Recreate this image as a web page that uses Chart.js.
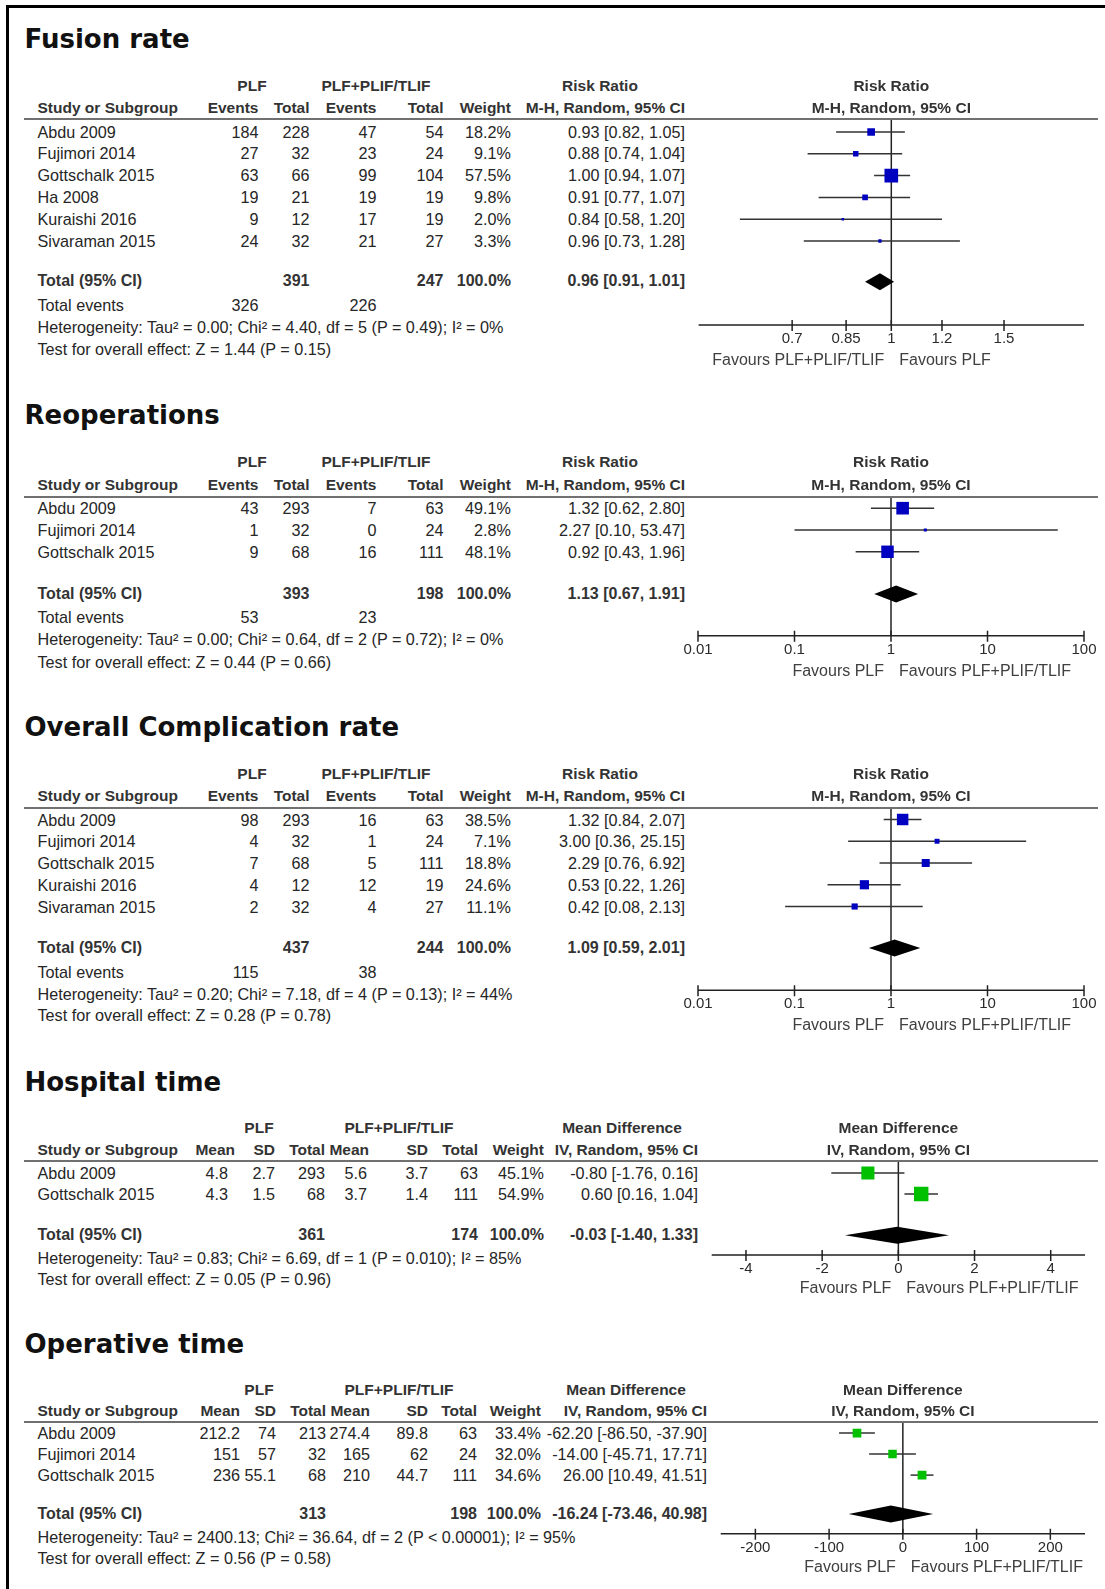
<!DOCTYPE html>
<html>
<head>
<meta charset="utf-8">
<script src="https://cdn.jsdelivr.net/npm/chart.js@4.4.1/dist/chart.umd.min.js"></script>
<style>
  body { margin: 0; background: #fff; width: 1105px; height: 1589px; position: relative; overflow: hidden;
         font-family: "Liberation Sans", Arial, sans-serif; color: #262626; }
  .frame { position: absolute; left: 6px; top: 5px; right: -10px; bottom: -10px; border-left: 3px solid #000; border-top: 3px solid #000; }
  .t { position: absolute; white-space: nowrap; font-size: 16.2px; line-height: 1; }
  .b { font-weight: bold; color: #333; font-size: 16px; }
  .hd { font-weight: bold; color: #333; font-size: 15.5px; }
  .title { font: bold 26px "DejaVu Sans", sans-serif; color: #111; }
  .rule { position: absolute; left: 24px; width: 1074px; height: 2px; background: #707070; }
  canvas { position: absolute; }
</style>
</head>
<body>
<div class="frame"></div>
<script>
// Fusion rate
const fusionStudies = ['Abdu 2009', 'Fujimori 2014', 'Gottschalk 2015', 'Ha 2008', 'Kuraishi 2016', 'Sivaraman 2015']
const fusionPlfEvents = [184, 27, 63, 19, 9, 24]
const fusionPlfTotal = [228, 32, 66, 21, 12, 32]
const fusionComboEvents = [47, 23, 99, 19, 17, 21]
const fusionComboTotal = [54, 24, 104, 19, 19, 27]
const fusionWeight = [18.2, 9.1, 57.5, 9.8, 2.0, 3.3]
const fusionRR = [0.93, 0.88, 1.00, 0.91, 0.84, 0.96]
const fusionLow = [0.82, 0.74, 0.94, 0.77, 0.58, 0.73]
const fusionHigh = [1.05, 1.04, 1.07, 1.07, 1.20, 1.28]
const fusionPooled = [0.96, 0.91, 1.01]
const fusionTicks = [0.7, 0.85, 1, 1.2, 1.5]
const fusionTickLabels = ['0.7', '0.85', '1', '1.2', '1.5']

// Reoperations
const reopStudies = ['Abdu 2009', 'Fujimori 2014', 'Gottschalk 2015']
const reopPlfEvents = [43, 1, 9]
const reopPlfTotal = [293, 32, 68]
const reopComboEvents = [7, 0, 16]
const reopComboTotal = [63, 24, 111]
const reopWeight = [49.1, 2.8, 48.1]
const reopRR = [1.32, 2.27, 0.92]
const reopLow = [0.62, 0.10, 0.43]
const reopHigh = [2.80, 53.47, 1.96]
const reopPooled = [1.13, 0.67, 1.91]

// Overall complication rate
const complStudies = ['Abdu 2009', 'Fujimori 2014', 'Gottschalk 2015', 'Kuraishi 2016', 'Sivaraman 2015']
const complPlfEvents = [98, 4, 7, 4, 2]
const complPlfTotal = [293, 32, 68, 12, 32]
const complComboEvents = [16, 1, 5, 12, 4]
const complComboTotal = [63, 24, 111, 19, 27]
const complWeight = [38.5, 7.1, 18.8, 24.6, 11.1]
const complRR = [1.32, 3.00, 2.29, 0.53, 0.42]
const complLow = [0.84, 0.36, 0.76, 0.22, 0.08]
const complHigh = [2.07, 25.15, 6.92, 1.26, 2.13]
const complPooled = [1.09, 0.59, 2.01]

const logTicks = [0.01, 0.1, 1, 10, 100]
const logTickLabels = ['0.01', '0.1', '1', '10', '100']

// Hospital time
const hospStudies = ['Abdu 2009', 'Gottschalk 2015']
const hospPlfMean = [4.8, 4.3]
const hospPlfSD = [2.7, 1.5]
const hospPlfTotal = [293, 68]
const hospComboMean = [5.6, 3.7]
const hospComboSD = [3.7, 1.4]
const hospComboTotal = [63, 111]
const hospWeight = [45.1, 54.9]
const hospMD = [-0.80, 0.60]
const hospLow = [-1.76, 0.16]
const hospHigh = [0.16, 1.04]
const hospPooled = [-0.03, -1.40, 1.33]
const hospTicks = [-4, -2, 0, 2, 4]
const hospTickLabels = ['-4', '-2', '0', '2', '4']

// Operative time
const operStudies = ['Abdu 2009', 'Fujimori 2014', 'Gottschalk 2015']
const operPlfMean = [212.2, 151, 236]
const operPlfSD = [74, 57, 55.1]
const operPlfTotal = [213, 32, 68]
const operComboMean = [274.4, 165, 210]
const operComboSD = [89.8, 62, 44.7]
const operComboTotal = [63, 24, 111]
const operWeight = [33.4, 32.0, 34.6]
const operMD = [-62.20, -14.00, 26.00]
const operLow = [-86.50, -45.71, 10.49]
const operHigh = [-37.90, 17.71, 41.51]
const operPooled = [-16.24, -73.46, 40.98]
const operTicks = [-200, -100, 0, 100, 200]
const operTickLabels = ['-200', '-100', '0', '100', '200']

// vertical placement of each block
const layout = {
	fusion: { title: 38.5, h1: 86, h2: 107.5, rule: 118.5, row0: 131.5, rowH: 21.8, total: 281.2, events: 304.8, het: 326.8, test: 349, axis: 324.5, favY: 35.5, axisL: 698.6, axisR: 1084 },
	reop: { title: 414.6, h1: 462.3, h2: 484.6, rule: 496.8, row0: 508, rowH: 21.8, total: 593.7, events: 617.2, het: 639.2, test: 661.6, axis: 635.6, favY: 35.5, axisL: 698, axisR: 1084 },
	compl: { title: 726.9, h1: 773.5, h2: 795.8, rule: 808, row0: 819.5, rowH: 21.75, total: 948, events: 972, het: 994, test: 1015.2, axis: 990.3, favY: 35.5, axisL: 698, axisR: 1084 },
	hosp: { title: 1081.7, h1: 1128.3, h2: 1149.6, rule: 1160.5, row0: 1172.5, rowH: 21, total: 1234.8, het: 1257.6, test: 1278.8, axis: 1254.5, favY: 34, axisL: 711.7, axisR: 1085 },
	oper: { title: 1344.3, h1: 1390, h2: 1411.2, rule: 1421.5, row0: 1432.6, rowH: 21, total: 1513.6, het: 1536.5, test: 1557.8, axis: 1533.2, favY: 33.5, axisL: 720.7, axisR: 1085 },
}

const rrCols = { c1: 258.5, c2: 309.5, c3: 376.5, c4: 443.5, weight: 511, ci: 685, plf: 252, combo: 376, ciHead: 600 }
const hospCols = { mean: 235, meanVal: 228, sd: 275, total: 325, mean2: 369, mean2Val: 367, sd2: 428, total2: 478, weight: 544, ci: 698, plf: 259, combo: 399, ciHead: 622 }
const operCols = { mean: 240, meanVal: 240, sd: 276, total: 326, mean2: 370, mean2Val: 370, sd2: 428, total2: 477, weight: 541, ci: 707, plf: 259, combo: 399, ciHead: 626 }

const sum = (a) => a.reduce((s, v) => s + v, 0)
const f2 = (v) => v.toFixed(2)
const ciText = (e, l, h) => f2(e) + ' [' + f2(l) + ', ' + f2(h) + ']'

function put(text, x, y, align, cls) {
	let el = document.createElement('div')
	el.className = 't' + (cls ? ' ' + cls : '')
	el.textContent = text
	el.style.left = x + 'px'
	el.style.top = y + 'px'
	let tx = align === 'right' ? '-100%' : align === 'center' ? '-50%' : '0'
	el.style.transform = 'translate(' + tx + ', -50%)'
	document.body.appendChild(el)
	return el
}

function rule(y) {
	let el = document.createElement('div')
	el.className = 'rule'
	el.style.top = y - 1 + 'px'
	document.body.appendChild(el)
}

// whiskers, reference line, axis, pooled diamond and favours labels
function forestPlugin(cfg, totalRow, axisRow, favY) {
	return {
		id: 'forest',
		beforeDatasetsDraw(chart) {
			let ctx = chart.ctx
			let x = chart.scales.x
			let y = chart.scales.y
			let ay = y.getPixelForValue(axisRow)
			ctx.save()
			ctx.strokeStyle = '#222'
			ctx.lineWidth = 1.5
			let rx = x.getPixelForValue(cfg.ref)
			ctx.beginPath()
			ctx.moveTo(rx, chart.chartArea.top)
			ctx.lineTo(rx, ay)
			ctx.stroke()

			ctx.beginPath()
			ctx.moveTo(x.left, ay)
			ctx.lineTo(x.right, ay)
			x.ticks.forEach((t) => {
				let px = x.getPixelForValue(t.value)
				ctx.moveTo(px, ay - 5)
				ctx.lineTo(px, ay + 6)
			})
			ctx.stroke()

			ctx.strokeStyle = '#333'
			for (let i = 0; i < cfg.low.length; i++) {
				let py = y.getPixelForValue(i)
				ctx.beginPath()
				ctx.moveTo(x.getPixelForValue(cfg.low[i]), py)
				ctx.lineTo(x.getPixelForValue(cfg.high[i]), py)
				ctx.stroke()
			}
			ctx.restore()
		},
		afterDatasetsDraw(chart) {
			let ctx = chart.ctx
			let x = chart.scales.x
			let y = chart.scales.y
			let cy = y.getPixelForValue(totalRow)
			ctx.save()
			ctx.fillStyle = '#000'
			ctx.beginPath()
			ctx.moveTo(x.getPixelForValue(cfg.pooled[1]), cy)
			ctx.lineTo(x.getPixelForValue(cfg.pooled[0]), cy - 8.5)
			ctx.lineTo(x.getPixelForValue(cfg.pooled[2]), cy)
			ctx.lineTo(x.getPixelForValue(cfg.pooled[0]), cy + 8.5)
			ctx.closePath()
			ctx.fill()

			let rx = x.getPixelForValue(cfg.ref)
			let fy = y.getPixelForValue(axisRow) + favY
			ctx.fillStyle = '#404040'
			ctx.font = '16px "Liberation Sans"'
			ctx.textBaseline = 'middle'
			ctx.textAlign = 'right'
			ctx.fillText(cfg.favours[0], rx - 7, fy)
			ctx.textAlign = 'left'
			ctx.fillText(cfg.favours[1], rx + 8, fy)
			ctx.restore()
		},
	}
}

function forestChart(L, cfg) {
	let canvas = document.createElement('canvas')
	let left = 640
	let width = 465
	let padT = 30
	let padB = 50
	let top = L.rule + 1 - padT
	let height = Math.round(L.axis + padB - top)
	canvas.width = width
	canvas.height = height
	canvas.style.left = left + 'px'
	canvas.style.top = top + 'px'
	canvas.style.width = width + 'px'
	canvas.style.height = height + 'px'
	document.body.appendChild(canvas)

	let rowOf = (py) => (py - L.row0) / L.rowH
	let totalRow = rowOf(L.total)
	let axisRow = rowOf(L.axis)

	let chart = new Chart(canvas, {
		type: 'scatter',
		data: {
			datasets: [
				{
					data: cfg.est.map((v, i) => ({ x: v, y: i })),
					pointStyle: 'rect',
					pointRadius: cfg.weight.map((w) => (cfg.boxScale * Math.sqrt(w)) / Math.SQRT2),
					backgroundColor: cfg.color,
					borderWidth: 0,
				},
			],
		},
		options: {
			responsive: false,
			animation: false,
			events: [],
			layout: { padding: { left: L.axisL - left, right: left + width - L.axisR, top: padT, bottom: padB } },
			scales: {
				x: {
					type: cfg.log ? 'logarithmic' : 'linear',
					min: cfg.min,
					max: cfg.max,
					position: { y: axisRow },
					afterBuildTicks: (axis) => {
						axis.ticks = cfg.ticks.map((v) => ({ value: v }))
					},
					grid: { display: false, drawTicks: false, tickLength: 0 },
					border: { display: false },
					ticks: {
						autoSkip: false,
						maxRotation: 0,
						padding: 5,
						color: '#2a2a2a',
						font: { family: 'Liberation Sans', size: 15 },
						callback: (v, i) => cfg.tickLabels[i],
					},
				},
				y: { type: 'linear', display: false, reverse: true, min: rowOf(top + padT), max: rowOf(top + height - padB) },
			},
			plugins: { legend: { display: false }, tooltip: { enabled: false } },
		},
		plugins: [forestPlugin(cfg, totalRow, axisRow, L.favY)],
	})

	let refPx = left + chart.scales.x.getPixelForValue(cfg.ref)
	put(cfg.head[0], refPx, L.h1, 'center', 'hd')
	put(cfg.head[1], refPx, L.h2, 'center', 'hd')
	return chart
}

function riskRatioPanel(title, L, d) {
	put(title, 24.5, L.title, 'left', 'title')
	let c = rrCols
	put('PLF', c.plf, L.h1, 'center', 'hd')
	put('PLF+PLIF/TLIF', c.combo, L.h1, 'center', 'hd')
	put('Risk Ratio', c.ciHead, L.h1, 'center', 'hd')
	put('Study or Subgroup', 37.5, L.h2, 'left', 'hd')
	put('Events', c.c1, L.h2, 'right', 'hd')
	put('Total', c.c2, L.h2, 'right', 'hd')
	put('Events', c.c3, L.h2, 'right', 'hd')
	put('Total', c.c4, L.h2, 'right', 'hd')
	put('Weight', c.weight, L.h2, 'right', 'hd')
	put('M-H, Random, 95% CI', c.ci, L.h2, 'right', 'hd')
	rule(L.rule)

	d.studies.forEach((s, i) => {
		let y = L.row0 + i * L.rowH
		put(s, 37.5, y, 'left')
		put(String(d.ev1[i]), c.c1, y, 'right')
		put(String(d.n1[i]), c.c2, y, 'right')
		put(String(d.ev2[i]), c.c3, y, 'right')
		put(String(d.n2[i]), c.c4, y, 'right')
		put(d.weight[i].toFixed(1) + '%', c.weight, y, 'right')
		put(ciText(d.est[i], d.low[i], d.high[i]), c.ci, y, 'right')
	})
	put('Total (95% CI)', 37.5, L.total, 'left', 'b')
	put(String(sum(d.n1)), c.c2, L.total, 'right', 'b')
	put(String(sum(d.n2)), c.c4, L.total, 'right', 'b')
	put('100.0%', c.weight, L.total, 'right', 'b')
	put(ciText(d.pooled[0], d.pooled[1], d.pooled[2]), c.ci, L.total, 'right', 'b')
	put('Total events', 37.5, L.events, 'left')
	put(String(sum(d.ev1)), c.c1, L.events, 'right')
	put(String(sum(d.ev2)), c.c3, L.events, 'right')
	put(d.het, 37.5, L.het, 'left')
	put(d.test, 37.5, L.test, 'left')

	forestChart(L, {
		est: d.est, low: d.low, high: d.high, weight: d.weight, pooled: d.pooled,
		log: true, min: d.min, max: d.max, ticks: d.ticks, tickLabels: d.tickLabels,
		ref: 1, favours: d.favours, color: '#0000c0', boxScale: d.boxScale,
		head: ['Risk Ratio', 'M-H, Random, 95% CI'],
	})
}

function meanDiffPanel(title, L, c, d) {
	put(title, 24.5, L.title, 'left', 'title')
	put('PLF', c.plf, L.h1, 'center', 'hd')
	put('PLF+PLIF/TLIF', c.combo, L.h1, 'center', 'hd')
	put('Mean Difference', c.ciHead, L.h1, 'center', 'hd')
	put('Study or Subgroup', 37.5, L.h2, 'left', 'hd')
	put('Mean', c.mean, L.h2, 'right', 'hd')
	put('SD', c.sd, L.h2, 'right', 'hd')
	put('Total', c.total, L.h2, 'right', 'hd')
	put('Mean', c.mean2, L.h2, 'right', 'hd')
	put('SD', c.sd2, L.h2, 'right', 'hd')
	put('Total', c.total2, L.h2, 'right', 'hd')
	put('Weight', c.weight, L.h2, 'right', 'hd')
	put('IV, Random, 95% CI', c.ci, L.h2, 'right', 'hd')
	rule(L.rule)

	d.studies.forEach((s, i) => {
		let y = L.row0 + i * L.rowH
		put(s, 37.5, y, 'left')
		put(String(d.mean1[i]), c.meanVal, y, 'right')
		put(String(d.sd1[i]), c.sd, y, 'right')
		put(String(d.n1[i]), c.total, y, 'right')
		put(String(d.mean2[i]), c.mean2Val, y, 'right')
		put(String(d.sd2[i]), c.sd2, y, 'right')
		put(String(d.n2[i]), c.total2, y, 'right')
		put(d.weight[i].toFixed(1) + '%', c.weight, y, 'right')
		put(ciText(d.est[i], d.low[i], d.high[i]), c.ci, y, 'right')
	})
	put('Total (95% CI)', 37.5, L.total, 'left', 'b')
	put(String(sum(d.n1)), c.total, L.total, 'right', 'b')
	put(String(sum(d.n2)), c.total2, L.total, 'right', 'b')
	put('100.0%', c.weight, L.total, 'right', 'b')
	put(ciText(d.pooled[0], d.pooled[1], d.pooled[2]), c.ci, L.total, 'right', 'b')
	put(d.het, 37.5, L.het, 'left')
	put(d.test, 37.5, L.test, 'left')

	forestChart(L, {
		est: d.est, low: d.low, high: d.high, weight: d.weight, pooled: d.pooled,
		log: false, min: d.min, max: d.max, ticks: d.ticks, tickLabels: d.tickLabels,
		ref: 0, favours: ['Favours PLF', 'Favours PLF+PLIF/TLIF'], color: '#00c000', boxScale: d.boxScale,
		head: ['Mean Difference', 'IV, Random, 95% CI'],
	})
}

riskRatioPanel('Fusion rate', layout.fusion, {
	studies: fusionStudies, ev1: fusionPlfEvents, n1: fusionPlfTotal, ev2: fusionComboEvents, n2: fusionComboTotal,
	weight: fusionWeight, est: fusionRR, low: fusionLow, high: fusionHigh, pooled: fusionPooled,
	het: 'Heterogeneity: Tau² = 0.00; Chi² = 4.40, df = 5 (P = 0.49); I² = 0%',
	test: 'Test for overall effect: Z = 1.44 (P = 0.15)',
	min: 0.5, max: 2, ticks: fusionTicks, tickLabels: fusionTickLabels,
	favours: ['Favours PLF+PLIF/TLIF', 'Favours PLF'], boxScale: 1.8,
})

riskRatioPanel('Reoperations', layout.reop, {
	studies: reopStudies, ev1: reopPlfEvents, n1: reopPlfTotal, ev2: reopComboEvents, n2: reopComboTotal,
	weight: reopWeight, est: reopRR, low: reopLow, high: reopHigh, pooled: reopPooled,
	het: 'Heterogeneity: Tau² = 0.00; Chi² = 0.64, df = 2 (P = 0.72); I² = 0%',
	test: 'Test for overall effect: Z = 0.44 (P = 0.66)',
	min: 0.01, max: 100, ticks: logTicks, tickLabels: logTickLabels,
	favours: ['Favours PLF', 'Favours PLF+PLIF/TLIF'], boxScale: 1.8,
})

riskRatioPanel('Overall Complication rate', layout.compl, {
	studies: complStudies, ev1: complPlfEvents, n1: complPlfTotal, ev2: complComboEvents, n2: complComboTotal,
	weight: complWeight, est: complRR, low: complLow, high: complHigh, pooled: complPooled,
	het: 'Heterogeneity: Tau² = 0.20; Chi² = 7.18, df = 4 (P = 0.13); I² = 44%',
	test: 'Test for overall effect: Z = 0.28 (P = 0.78)',
	min: 0.01, max: 100, ticks: logTicks, tickLabels: logTickLabels,
	favours: ['Favours PLF', 'Favours PLF+PLIF/TLIF'], boxScale: 1.85,
})

meanDiffPanel('Hospital time', layout.hosp, hospCols, {
	studies: hospStudies, mean1: hospPlfMean, sd1: hospPlfSD, n1: hospPlfTotal,
	mean2: hospComboMean, sd2: hospComboSD, n2: hospComboTotal,
	weight: hospWeight, est: hospMD, low: hospLow, high: hospHigh, pooled: hospPooled,
	het: 'Heterogeneity: Tau² = 0.83; Chi² = 6.69, df = 1 (P = 0.010); I² = 85%',
	test: 'Test for overall effect: Z = 0.05 (P = 0.96)',
	min: -4.9, max: 4.9, ticks: hospTicks, tickLabels: hospTickLabels, boxScale: 1.95,
})

meanDiffPanel('Operative time', layout.oper, operCols, {
	studies: operStudies, mean1: operPlfMean, sd1: operPlfSD, n1: operPlfTotal,
	mean2: operComboMean, sd2: operComboSD, n2: operComboTotal,
	weight: operWeight, est: operMD, low: operLow, high: operHigh, pooled: operPooled,
	het: 'Heterogeneity: Tau² = 2400.13; Chi² = 36.64, df = 2 (P < 0.00001); I² = 95%',
	test: 'Test for overall effect: Z = 0.56 (P = 0.58)',
	min: -247, max: 247, ticks: operTicks, tickLabels: operTickLabels, boxScale: 1.5,
})
</script>
</body>
</html>
